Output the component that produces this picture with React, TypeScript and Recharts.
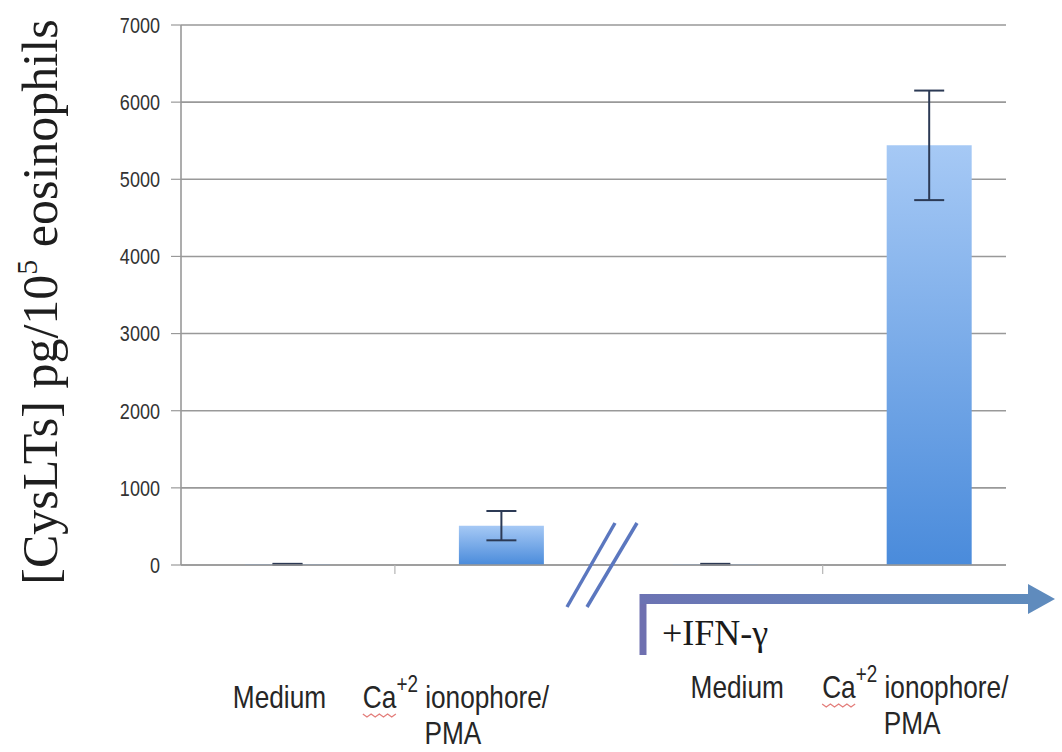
import React from 'react';
import { BarChart, Bar, XAxis, YAxis, CartesianGrid, ErrorBar } from 'recharts';

// Cysteinyl leukotriene release, resting vs. stimulated, without and with IFN-γ priming
const categories = ['Medium', 'Ca+2 ionophore/PMA', 'Medium', 'Ca+2 ionophore/PMA'];
const cysLTs = [10, 510, 10, 5440];
const sem = [5, 190, 5, 710];
const yTicks = [0, 1000, 2000, 3000, 4000, 5000, 6000, 7000];
const groupTicks = [1, 3];

const data = categories.map((name, i) => ({
  pos: i + 0.5,
  name,
  value: cysLTs[i],
  err: sem[i],
}));
const labelTicks = data.map((d) => d.pos);

const W = 1062;
const H = 752;
const X_MAX = 3.857;

const SANS = "'Liberation Sans', Arial, sans-serif";
const SERIF = "'Liberation Serif', 'Times New Roman', serif";
// condensed look for the axis text
const SQUEEZE = 0.82;

// horizontal nudge of each category caption and its baseline drop
const CAPTION_SHIFT = [-8.5, -44, 21.5, -12.5];
const CAPTION_DROP = [131, 131, 121, 121];
const LINE_GAP = 36;

function ValueTick(props: any) {
  const { x, y, payload } = props;
  return (
    <text
      transform={`translate(${x},${y}) scale(${SQUEEZE},1)`}
      x={0}
      y={0}
      dy="0.355em"
      textAnchor="end"
      fill="#333"
      fontFamily={SANS}
      fontSize={22}
    >
      {payload.value}
    </text>
  );
}

function CategoryTick(props: any) {
  const { x, y, payload } = props;
  const i = payload?.index ?? 0;
  const label: string = categories[i] ?? '';
  const cx = x + CAPTION_SHIFT[i];
  const base = y + CAPTION_DROP[i];
  const m = label.match(/^(\w+)\+(\d) (.*\/)(.*)$/);
  const common = { fill: '#262626', fontFamily: SANS, fontSize: 32 };
  if (!m) {
    return (
      <text transform={`translate(${cx},${base}) scale(${SQUEEZE},1)`} textAnchor="middle" {...common}>
        {label}
      </text>
    );
  }
  const left = cx - 95;
  const caW = 33;
  const squiggle: string[] = [];
  for (let k = 0; k <= 8; k++) {
    squiggle.push(`${left + (k * caW) / 8},${base + 6 + (k % 2 === 0 ? 0 : 3)}`);
  }
  return (
    <g>
      <text transform={`translate(${left},${base}) scale(${SQUEEZE},1)`} textAnchor="start" {...common}>
        <tspan>{m[1]}</tspan>
        <tspan dy={-16} fontSize={23}>{'+' + m[2]}</tspan>
        <tspan dy={16}>{' ' + m[3]}</tspan>
      </text>
      <polyline points={squiggle.join(' ')} fill="none" stroke="#d9534f" strokeWidth={1.3} opacity={0.75} />
      <text
        transform={`translate(${cx - 5},${base + LINE_GAP}) scale(${SQUEEZE},1)`}
        textAnchor="middle"
        {...common}
      >
        {m[4]}
      </text>
    </g>
  );
}

export default function App() {
  return (
    <div style={{ position: 'absolute', left: 0, top: 0, width: W, height: H, background: '#fff' }}>
      <BarChart
        width={W}
        height={H}
        data={data}
        margin={{ top: 25, right: 56, left: 0, bottom: 0 }}
      >
        <defs>
          <linearGradient id="barFill" x1="0" y1="0" x2="0" y2="1">
            <stop offset="0%" stopColor="#a6c9f5" />
            <stop offset="100%" stopColor="#4a8bdb" />
          </linearGradient>
        </defs>
        <CartesianGrid vertical={false} stroke="#999" strokeWidth={1.6} />
        <YAxis
          type="number"
          domain={[0, 7000]}
          ticks={yTicks}
          interval={0}
          width={181}
          tickSize={10}
          tickMargin={11}
          axisLine={{ stroke: '#999', strokeWidth: 1.6 }}
          tickLine={{ stroke: '#999', strokeWidth: 1.2 }}
          tick={<ValueTick />}
        />
        <XAxis
          type="number"
          dataKey="pos"
          domain={[0, X_MAX]}
          allowDataOverflow
          ticks={groupTicks}
          interval={0}
          height={12}
          tickSize={9}
          tickFormatter={() => ''}
          axisLine={{ stroke: '#999', strokeWidth: 1.6 }}
          tickLine={{ stroke: '#b5b5b5', strokeWidth: 1.2 }}
        />
        <XAxis
          xAxisId="captions"
          type="number"
          dataKey="pos"
          domain={[0, X_MAX]}
          allowDataOverflow
          ticks={labelTicks}
          interval={0}
          height={175}
          tickSize={0}
          tickMargin={0}
          axisLine={false}
          tickLine={false}
          tick={<CategoryTick />}
        />
        <Bar dataKey="value" barSize={85} fill="url(#barFill)" isAnimationActive={false}>
          <ErrorBar dataKey="err" width={15} strokeWidth={2} stroke="#2c3a55" direction="y" />
        </Bar>
      </BarChart>

      <svg
        width={W}
        height={H}
        style={{ position: 'absolute', left: 0, top: 0, pointerEvents: 'none' }}
      >
        <defs>
          <linearGradient id="arrowFill" x1="0" y1="0" x2="1" y2="0">
            <stop offset="0%" stopColor="#6c73b3" />
            <stop offset="100%" stopColor="#5e8bbd" />
          </linearGradient>
        </defs>
        {/* y-axis title */}
        <text
          x={57}
          y={302}
          transform="rotate(-90 57 302)"
          textAnchor="middle"
          fontFamily={SERIF}
          fontSize={50}
          fill="#1e1e1e"
        >
          <tspan>[CysLTs] pg/10</tspan>
          <tspan dy={-20} fontSize={30}>5</tspan>
          <tspan dy={20}> eosinophils</tspan>
        </text>

        {/* axis break */}
        <line x1={567} y1={607} x2={615} y2={523} stroke="#5b77bf" strokeWidth={3.5} />
        <line x1={587} y1={607} x2={637} y2={523} stroke="#5b77bf" strokeWidth={3.5} />

        {/* IFN-γ treatment bracket */}
        <line x1={643} y1={594} x2={643} y2={655} stroke="#6f70b0" strokeWidth={7} />
        <rect x={640} y={594} width={392} height={10} fill="url(#arrowFill)" />
        <polygon points="1028,584 1055,599 1028,614" fill="#5f8bbd" />
        <text x={662} y={645} fontFamily={SERIF} fontSize={36} fill="#1a1a1a">
          +IFN-γ
        </text>
      </svg>
    </div>
  );
}
